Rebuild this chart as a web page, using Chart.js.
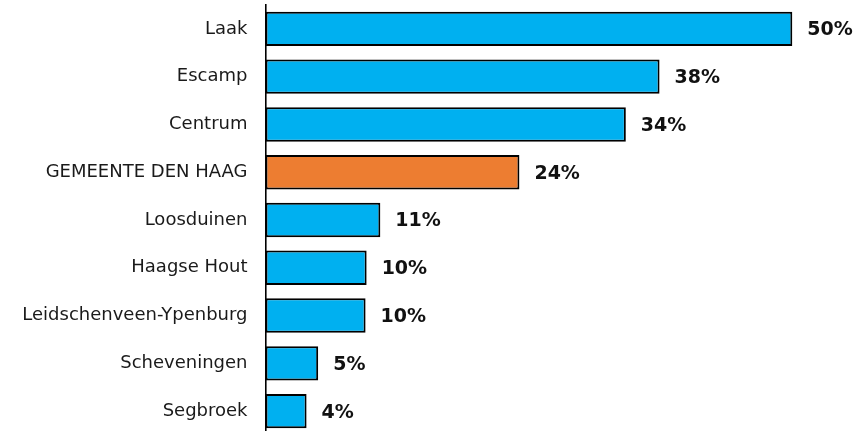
<!DOCTYPE html>
<html>
<head>
<meta charset="utf-8">
<script src="https://cdn.jsdelivr.net/npm/chart.js@4"></script>
<style>
html,body{margin:0;padding:0;background:#fff;overflow:hidden;}
#wrap{position:relative;width:867px;height:436px;}
</style>
</head>
<body>
<div id="wrap"><canvas id="c"></canvas></div>
<script>
const categories = ["Laak","Escamp","Centrum","GEMEENTE DEN HAAG","Loosduinen","Haagse Hout","Leidschenveen-Ypenburg","Scheveningen","Segbroek"];
const values = [50, 37.4, 34.2, 24.1, 10.9, 9.6, 9.5, 5.0, 3.9];
const valueLabels = ["50%","38%","34%","24%","11%","10%","10%","5%","4%"];
const highlight = "GEMEENTE DEN HAAG";

const blue = "#00B0F0", orange = "#ED7D31";

const valueLabelPlugin = {
  id: 'valueLabels',
  afterDatasetsDraw(chart) {
    const ctx = chart.ctx;
    const meta = chart.getDatasetMeta(0);
    ctx.save();
    ctx.font = "bold 19px 'DejaVu Sans', Verdana, sans-serif";
    ctx.fillStyle = "#111";
    ctx.textAlign = "left";
    ctx.textBaseline = "middle";
    meta.data.forEach((bar, i) => {
      ctx.fillText(valueLabels[i], bar.x + 15, bar.y + 1.5);
    });
    ctx.restore();
  }
};

new Chart(document.getElementById('c'), {
  type: 'bar',
  data: {
    labels: categories,
    datasets: [{
      data: values,
      backgroundColor: categories.map(c => c === highlight ? orange : blue),
      borderColor: "#000",
      borderWidth: 2,
      borderSkipped: false,
      categoryPercentage: 0.72,
      barPercentage: 1.0
    }]
  },
  options: {
    indexAxis: 'y',
    responsive: true,
    maintainAspectRatio: false,
    animation: false,
    layout: { padding: { top: 5, left: 0, right: 22, bottom: 1 } },
    plugins: { legend: { display: false }, tooltip: { enabled: false } },
    scales: {
      x: { display: false, min: 0, max: 55,
        afterFit(scale) { scale.paddingLeft = 0; scale.paddingRight = 0; scale.paddingTop = 0; scale.paddingBottom = 0; } },
      y: {
        afterFit(scale) { scale.width = 265.5; scale.paddingTop = 0; scale.paddingBottom = 0; },
        grid: { display: false, drawTicks: false },
        border: { display: true, color: "#000", width: 1.6 },
        ticks: {
          padding: 18,
          color: "#1a1a1a",
          font: { family: "'DejaVu Sans', Verdana, sans-serif", size: 18 }
        }
      }
    }
  },
  plugins: [valueLabelPlugin]
});
</script>
</body>
</html>
